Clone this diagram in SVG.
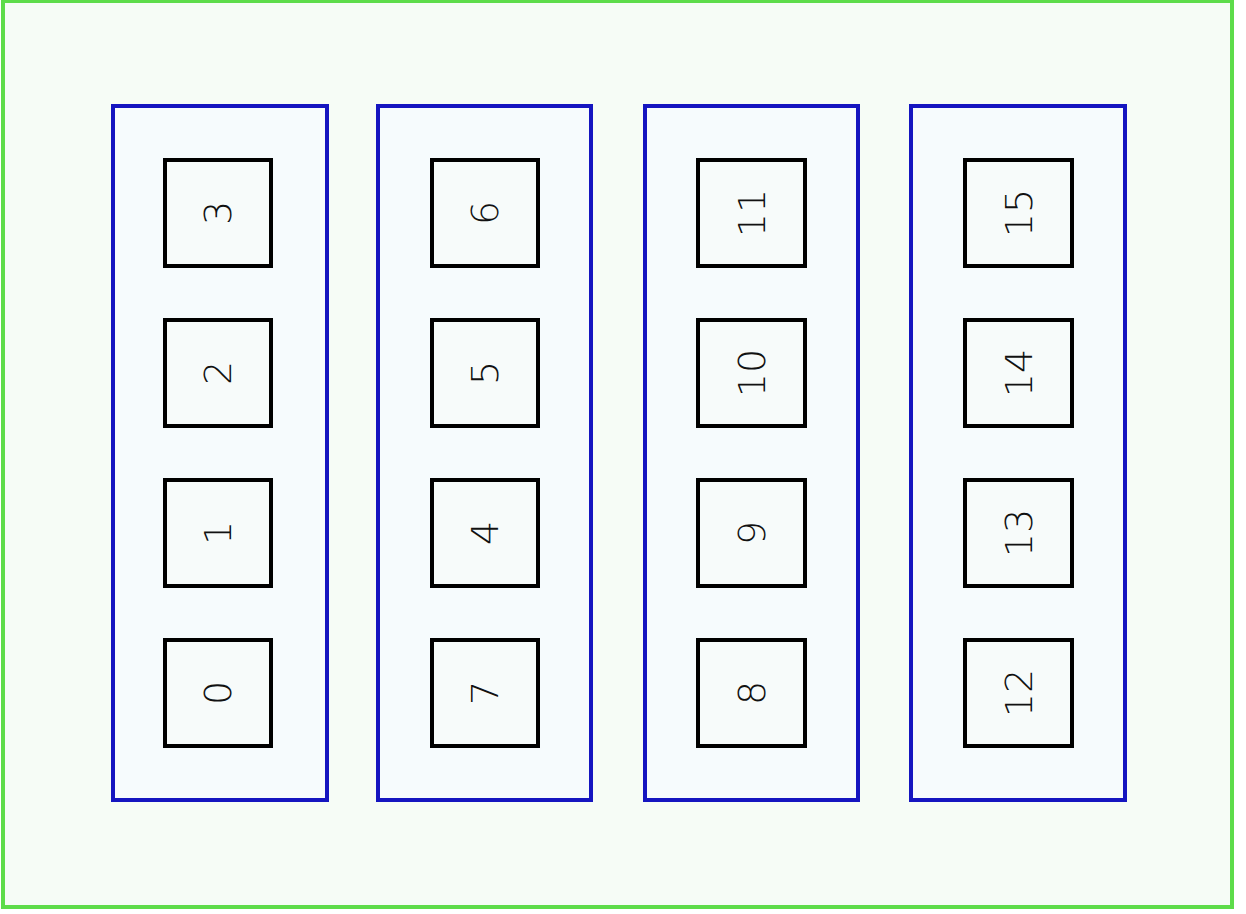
<svg xmlns="http://www.w3.org/2000/svg" width="1246" height="914" viewBox="0 0 1246 914">
<style>
.outer{fill:#f6fcf6;stroke:#5ddc4a;stroke-width:4}
.cl{fill:#f6fbfd;stroke:#1515c0;stroke-width:4}
.nd{fill:#f7fbfa;stroke:#000;stroke-width:4}
.lb{font-family:"DejaVu Sans",sans-serif;font-weight:200;font-size:38px;fill:#111;text-anchor:middle;dominant-baseline:central}
</style>
<rect width="1246" height="914" fill="#ffffff"/>
<rect class="outer" x="3" y="1" width="1229" height="906"/>
<g id="cluster0"><rect class="cl" x="113" y="106" width="214" height="694"/></g>
<g id="cluster1"><rect class="cl" x="378" y="106" width="213" height="694"/></g>
<g id="cluster2"><rect class="cl" x="645" y="106" width="213" height="694"/></g>
<g id="cluster3"><rect class="cl" x="911" y="106" width="214" height="694"/></g>
<g id="connectors"></g>
<g id="n3"><rect class="nd" x="165" y="160" width="106" height="106"/><text class="lb" transform="translate(218,213) rotate(-90)">3</text></g>
<g id="n2"><rect class="nd" x="165" y="320" width="106" height="106"/><text class="lb" transform="translate(218,373) rotate(-90)">2</text></g>
<g id="n1"><rect class="nd" x="165" y="480" width="106" height="106"/><text class="lb" transform="translate(218,533) rotate(-90)">1</text></g>
<g id="n0"><rect class="nd" x="165" y="640" width="106" height="106"/><text class="lb" transform="translate(218,693) rotate(-90)">0</text></g>
<g id="n6"><rect class="nd" x="432" y="160" width="106" height="106"/><text class="lb" transform="translate(485,213) rotate(-90)">6</text></g>
<g id="n5"><rect class="nd" x="432" y="320" width="106" height="106"/><text class="lb" transform="translate(485,373) rotate(-90)">5</text></g>
<g id="n4"><rect class="nd" x="432" y="480" width="106" height="106"/><text class="lb" transform="translate(485,533) rotate(-90)">4</text></g>
<g id="n7"><rect class="nd" x="432" y="640" width="106" height="106"/><text class="lb" transform="translate(485,693) rotate(-90)">7</text></g>
<g id="n11"><rect class="nd" x="698" y="160" width="107" height="106"/><text class="lb" transform="translate(751.5,213) rotate(-90)">11</text></g>
<g id="n10"><rect class="nd" x="698" y="320" width="107" height="106"/><text class="lb" transform="translate(751.5,373) rotate(-90)">10</text></g>
<g id="n9"><rect class="nd" x="698" y="480" width="107" height="106"/><text class="lb" transform="translate(751.5,533) rotate(-90)">9</text></g>
<g id="n8"><rect class="nd" x="698" y="640" width="107" height="106"/><text class="lb" transform="translate(751.5,693) rotate(-90)">8</text></g>
<g id="n15"><rect class="nd" x="965" y="160" width="107" height="106"/><text class="lb" transform="translate(1018.5,213) rotate(-90)">15</text></g>
<g id="n14"><rect class="nd" x="965" y="320" width="107" height="106"/><text class="lb" transform="translate(1018.5,373) rotate(-90)">14</text></g>
<g id="n13"><rect class="nd" x="965" y="480" width="107" height="106"/><text class="lb" transform="translate(1018.5,533) rotate(-90)">13</text></g>
<g id="n12"><rect class="nd" x="965" y="640" width="107" height="106"/><text class="lb" transform="translate(1018.5,693) rotate(-90)">12</text></g>
</svg>
